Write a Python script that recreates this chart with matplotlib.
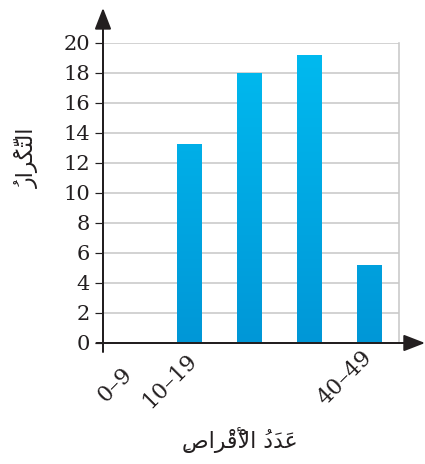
import numpy as np
import matplotlib
matplotlib.use("Agg")
import matplotlib.pyplot as plt
from matplotlib.colors import LinearSegmentedColormap

# ---------------- data ----------------
categories = ["0–9", "10–19", "20–29", "30–39", "40–49"]
frequencies = [0, 13.3, 18, 19.2, 5.2]
shown_tick_labels = ["0–9", "10–19", "", "", "40–49"]
y_ticks = [0, 2, 4, 6, 8, 10, 12, 14, 16, 18, 20]
x_title = "عَدَدُ الْأَقْراصِ"
y_title = "التَّكْرارُ"

# ---------------- minimal Arabic shaping (matplotlib has no bidi/shaping) ----------------
DUAL = {'ل': '\ufedd\ufede\ufedf\ufee0', 'ت': '\ufe95\ufe96\ufe97\ufe98',
        'ك': '\ufed9\ufeda\ufedb\ufedc', 'ع': '\ufec9\ufeca\ufecb\ufecc',
        'ق': '\ufed5\ufed6\ufed7\ufed8', 'ص': '\ufeb9\ufeba\ufebb\ufebc'}
RIGHT = {'ا': '\ufe8d\ufe8e', 'أ': '\ufe83\ufe84', 'ر': '\ufead\ufeae',
         'د': '\ufea9\ufeaa'}
LAMALEF = {'أ': '\ufef7\ufef8', 'ا': '\ufefb\ufefc'}
MARKS = set('\u064b\u064c\u064d\u064e\u064f\u0650\u0651\u0652')


def shape(text):
    clusters = []
    for ch in text:
        if ch in MARKS and clusters:
            clusters[-1][1].append(ch)
        else:
            clusters.append([ch, []])
    merged = []
    i = 0
    while i < len(clusters):
        b, m = clusters[i]
        if b == 'ل' and i + 1 < len(clusters) and clusters[i + 1][0] in LAMALEF:
            merged.append(['LA' + clusters[i + 1][0], m + clusters[i + 1][1]])
            i += 2
        else:
            merged.append([b, m])
            i += 1
    clusters = merged

    def is_letter(b):
        return b in DUAL or b in RIGHT or b.startswith('LA')

    def is_dual(b):
        return b in DUAL

    out = []
    for k, (b, m) in enumerate(clusters):
        if not is_letter(b):
            out.append(''.join(m) + b)
            continue
        jp = k > 0 and is_dual(clusters[k - 1][0])
        jn = is_dual(b) and k + 1 < len(clusters) and is_letter(clusters[k + 1][0])
        if b.startswith('LA'):
            g = LAMALEF[b[2:]][1 if jp else 0]
        elif b in RIGHT:
            g = RIGHT[b][1 if jp else 0]
        else:
            idx = 3 if (jp and jn) else 1 if jp else 2 if jn else 0
            g = DUAL[b][idx]
        # the font's zero-width marks extend rightwards from the pen,
        # so they are emitted just before their base glyph
        out.append(''.join(m) + g)
    return ''.join(reversed(out))


# ---------------- figure ----------------
W, H, DPI = 425, 464, 72
fig = plt.figure(figsize=(W / DPI, H / DPI), dpi=DPI)
ax = fig.add_axes([103 / W, 121 / H, 296 / W, 300 / H])

x = np.arange(len(categories))
ink = "#231f20"
grid_c = "#c9c9c9"

bars = ax.bar(x, frequencies, width=0.4, color="#00a6e2", zorder=3, linewidth=0)

cmap = LinearSegmentedColormap.from_list("g", ["#0097d7", "#00bbf0"])
grad = np.linspace(0, 1, 256).reshape(-1, 1)
for b in bars:
    if b.get_height() <= 0:
        continue
    im = ax.imshow(grad, cmap=cmap, origin="lower", aspect="auto",
                   extent=(b.get_x(), b.get_x() + b.get_width(), 0, 20),
                   zorder=4, interpolation="bilinear")
    im.set_clip_path(b)

ax.set_xlim(-0.4333, 4.5)
ax.set_ylim(0, 20)

ax.set_yticks(y_ticks)
ax.set_yticklabels([str(v) for v in y_ticks], fontfamily="DejaVu Serif",
                   fontsize=21, color=ink)
ax.tick_params(axis="y", length=8, width=1.2, color=ink, pad=5)
ax.set_xticks([])

ax.grid(axis="y", color=grid_c, linewidth=1.6, zorder=1)
for s in ["left", "bottom", "top"]:
    ax.spines[s].set_visible(False)
ax.spines["right"].set_color(grid_c)
ax.spines["right"].set_linewidth(1.6)

ax.annotate("", xy=(0, 1.117), xytext=(0, -0.03), xycoords="axes fraction",
            arrowprops=dict(arrowstyle="-|>,head_length=0.9,head_width=0.35",
                            color=ink, lw=2, mutation_scale=20, shrinkA=0, shrinkB=0),
            annotation_clip=False, zorder=6)
ax.annotate("", xy=(1.088, 0), xytext=(-0.022, 0), xycoords="axes fraction",
            arrowprops=dict(arrowstyle="-|>,head_length=0.9,head_width=0.35",
                            color=ink, lw=2, mutation_scale=20, shrinkA=0, shrinkB=0),
            annotation_clip=False, zorder=6)

label_offsets = {0: (8, -20), 1: (12, -6), 4: (7, -3)}
for i, lab in enumerate(shown_tick_labels):
    if not lab:
        continue
    dx, dy = label_offsets[i]
    ax.annotate(lab, xy=(x[i], 0), xycoords="data", xytext=(dx, dy),
                textcoords="offset points", rotation=45, ha="right", va="top",
                fontfamily="DejaVu Serif", fontsize=22, color=ink,
                annotation_clip=False)

fig.text(240 / W, 1 - 440 / H, shape(x_title), ha="center", va="center",
         fontfamily="DejaVu Sans", fontsize=22, color=ink)
fig.text(27 / W, 1 - 158 / H, shape(y_title), ha="center", va="center",
         rotation=90, fontfamily="DejaVu Sans", fontsize=22, color=ink)

fig.savefig("out.png", dpi=DPI)
